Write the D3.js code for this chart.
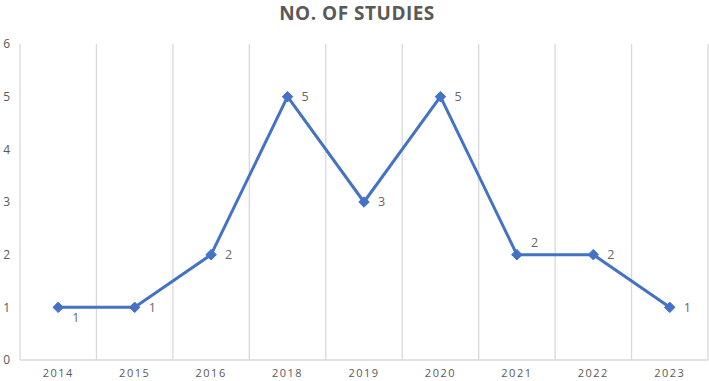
<!DOCTYPE html>
<html>
<head>
<meta charset="utf-8">
<script src="https://cdn.jsdelivr.net/npm/d3@7"></script>
<style>
body { margin: 0; background: #fff; }
text { font-family: "Open Sans", "DejaVu Sans", sans-serif; fill: #595959; }
</style>
</head>
<body>
<div class="visHolder"></div>
<script>
var width = 709
height = 381

var years = ["2014", "2015", "2016", "2018", "2019", "2020", "2021", "2022", "2023"]
var studies = [1, 1, 2, 5, 3, 5, 2, 2, 1]
var yTicks = [0, 1, 2, 3, 4, 5, 6]
// label offsets picked to match where the labels sit in the picture
var labelDy = [10, 0, 0, 0, 0, 0, -12, 0, 0]

var svg = d3.select('.visHolder')
    .append('svg')
    .attr('width', width)
    .attr('height', height)

var xScale = d3.scaleBand()
    .domain(years)
    .range([20, 708])

var yScale = d3.scaleLinear()
    .domain([0, 6])
    .range([360, 44])

// title
svg.append('text')
    .attr('x', 357)
    .attr('y', 20)
    .attr('text-anchor', 'middle')
    .style('font-size', '19px')
    .style('font-weight', 'bold')
    .style('letter-spacing', '0.5px')
    .text('NO. OF STUDIES')

// vertical grid lines between categories
var bounds = years.map((d) => xScale(d)).concat([xScale.range()[1]])
svg.selectAll('.vgrid')
    .data(bounds)
    .enter()
    .append('line')
    .attr('class', 'vgrid')
    .attr('x1', (d) => d)
    .attr('x2', (d) => d)
    .attr('y1', yScale(6))
    .attr('y2', yScale(0))
    .style('stroke', '#d9d9d9')
    .style('stroke-width', 1.3)

// base line
svg.append('line')
    .attr('x1', xScale.range()[0])
    .attr('x2', xScale.range()[1])
    .attr('y1', yScale(0))
    .attr('y2', yScale(0))
    .style('stroke', '#d9d9d9')
    .style('stroke-width', 1.3)

// y axis labels
var yAxis = svg.append('g')
    .attr('transform', 'translate(10,0)')
    .call(d3.axisLeft(yScale).tickValues(yTicks).tickFormat(d3.format('d')).tickSize(0).tickPadding(0))
yAxis.select('.domain').remove()
yAxis.selectAll('text')
    .attr('text-anchor', 'end')
    .style('font-size', '12px')
    .style('fill', '#595959')
    .style('font-family', '"Open Sans", "DejaVu Sans", sans-serif')

// x axis labels
var xAxis = svg.append('g')
    .attr('transform', `translate(0, ${yScale(0)})`)
    .call(d3.axisBottom(xScale).tickSize(0).tickPadding(9))
xAxis.select('.domain').remove()
xAxis.selectAll('text')
    .style('font-size', '11px')
    .style('letter-spacing', '1.5px')
    .style('fill', '#595959')
    .style('font-family', '"Open Sans", "DejaVu Sans", sans-serif')

var cx = (d, i) => xScale(years[i]) + xScale.bandwidth() / 2

var line = d3.line()
    .x((d, i) => cx(d, i))
    .y((d) => yScale(d))

svg.append('path')
    .datum(studies)
    .attr('d', line)
    .style('fill', 'none')
    .style('stroke', '#4472c4')
    .style('stroke-width', 3)
    .style('stroke-linejoin', 'round')

svg.selectAll('.marker')
    .data(studies)
    .enter()
    .append('path')
    .attr('class', 'marker')
    .attr('d', d3.symbol().type(d3.symbolDiamond2).size(70))
    .attr('transform', (d, i) => `translate(${cx(d, i)},${yScale(d)})`)
    .style('fill', '#4472c4')
    .style('stroke', '#4472c4')

svg.selectAll('.dlabel')
    .data(studies)
    .enter()
    .append('text')
    .attr('class', 'dlabel')
    .attr('x', (d, i) => cx(d, i) + 14)
    .attr('y', (d, i) => yScale(d) + labelDy[i])
    .attr('dy', '0.35em')
    .style('font-size', '12.5px')
    .style('fill', '#666')
    .text((d) => d)
</script>
</body>
</html>
